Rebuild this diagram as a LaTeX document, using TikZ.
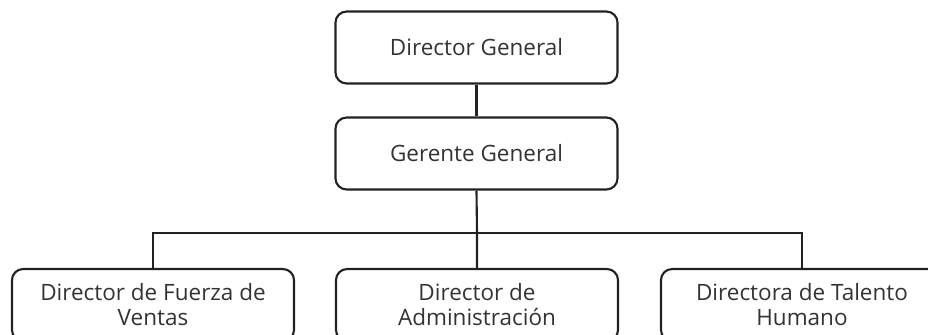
\documentclass[tikz,border=0pt]{standalone}
\usepackage{fontspec}
\setmainfont{Open Sans}
\usepackage{tikz}

\definecolor{texto}{HTML}{333333}
\definecolor{borde}{HTML}{222222}

\tikzset{
    caja/.style={draw=borde, line width=1.5pt, rounded corners=0.28cm,
        minimum width=7.05cm, minimum height=1.8cm, align=center,
        text=texto, font=\fontsize{16pt}{17.8pt}\selectfont},
    linea/.style={draw=borde, line width=1.5pt}
}

\begin{document}
\begin{tikzpicture}[x=0.025cm, y=-0.025cm]
    \useasboundingbox (0,0) rectangle (928,335);
    \clip (0,0) rectangle (928,335);
    \node[caja] (dg) at (476.5,47.5) {Director General};
    \node[caja] (gg) at (476.5,153.5) {Gerente General};
    \node[caja] (dv) at (153,305) {Director de Fuerza de\\Ventas};
    \node[caja] (da) at (477,305) {Director de\\Administración};
    \node[caja] (dt) at (802,305) {Directora de Talento\\Humano};
    \coordinate (bar) at (477,233);
    \draw[linea] (dg) -- (gg);
    \draw[linea] (gg.south) -- (bar) -- (da.north);
    \draw[linea] (dv.north) |- (bar) -| (dt.north);
\end{tikzpicture}
\end{document}
